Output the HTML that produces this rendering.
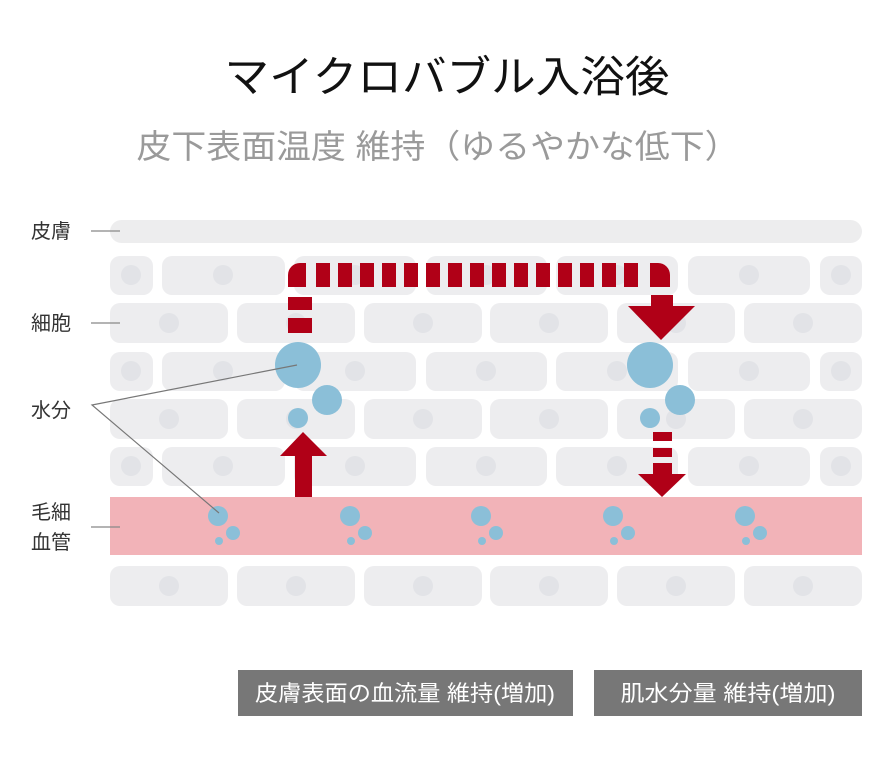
<!DOCTYPE html>
<html><head><meta charset="utf-8"><style>
html,body{margin:0;padding:0;background:#fff}
svg{display:block}
text{font-family:"Liberation Sans","Noto Sans CJK JP",sans-serif}
</style></head><body>
<svg width="890" height="769" viewBox="0 0 890 769" xmlns="http://www.w3.org/2000/svg">
<text x="447" y="92" text-anchor="middle" font-size="43" fill="#111" textLength="445" lengthAdjust="spacingAndGlyphs">マイクロバブル入浴後</text>
<text x="438" y="158" text-anchor="middle" font-size="33" fill="#9a9a9a" textLength="603" lengthAdjust="spacingAndGlyphs">皮下表面温度 維持（ゆるやかな低下）</text>

<rect x="110" y="220" width="752" height="23" rx="11.5" fill="#ededee"/>

<g fill="#ededef">
<g id="odd">
<rect x="110" y="256" width="43" height="39" rx="10"/><rect x="162" y="256" width="123" height="39" rx="10"/><rect x="294" y="256" width="122" height="39" rx="10"/><rect x="426" y="256" width="121" height="39" rx="10"/><rect x="556" y="256" width="122" height="39" rx="10"/><rect x="688" y="256" width="122" height="39" rx="10"/><rect x="820" y="256" width="42" height="39" rx="10"/>
</g>
<use href="#odd" y="96"/><use href="#odd" y="191"/>
<g id="even">
<rect x="110" y="303" width="118" height="40" rx="10"/><rect x="237" y="303" width="118" height="40" rx="10"/><rect x="364" y="303" width="118" height="40" rx="10"/><rect x="490" y="303" width="118" height="40" rx="10"/><rect x="617" y="303" width="118" height="40" rx="10"/><rect x="744" y="303" width="118" height="40" rx="10"/>
</g>
<use href="#even" y="96"/><use href="#even" y="263"/>
</g>
<g fill="#e2e3e7">
<g id="oddn">
<circle cx="131" cy="275" r="10"/><circle cx="223" cy="275" r="10"/><circle cx="355" cy="275" r="10"/><circle cx="486" cy="275" r="10"/><circle cx="617" cy="275" r="10"/><circle cx="749" cy="275" r="10"/><circle cx="841" cy="275" r="10"/>
</g>
<use href="#oddn" y="96"/><use href="#oddn" y="191"/>
<g id="evenn">
<circle cx="169" cy="323" r="10"/><circle cx="296" cy="323" r="10"/><circle cx="423" cy="323" r="10"/><circle cx="549" cy="323" r="10"/><circle cx="676" cy="323" r="10"/><circle cx="803" cy="323" r="10"/>
</g>
<use href="#evenn" y="96"/><use href="#evenn" y="263"/>
</g>

<rect x="110" y="497" width="752" height="58" fill="#f2b3b8"/>
<g fill="#8bbfd8">
<g id="cb"><circle cx="218" cy="516" r="10"/><circle cx="233" cy="533" r="7"/><circle cx="219" cy="541" r="4"/></g>
<use href="#cb" x="132"/><use href="#cb" x="263"/><use href="#cb" x="395"/><use href="#cb" x="527"/>
</g>

<g fill="#b00017">
<path d="M288 287 V275 a12 12 0 0 1 12 -12 H306 V287 Z"/>
<rect x="316" y="263" width="14" height="24"/><rect x="338" y="263" width="14" height="24"/><rect x="360" y="263" width="14" height="24"/><rect x="382" y="263" width="14" height="24"/><rect x="404" y="263" width="14" height="24"/><rect x="426" y="263" width="14" height="24"/><rect x="448" y="263" width="14" height="24"/><rect x="470" y="263" width="14" height="24"/><rect x="492" y="263" width="14" height="24"/><rect x="514" y="263" width="14" height="24"/><rect x="536" y="263" width="14" height="24"/><rect x="558" y="263" width="14" height="24"/><rect x="580" y="263" width="14" height="24"/><rect x="602" y="263" width="14" height="24"/><rect x="624" y="263" width="14" height="24"/>
<path d="M650 263 H658 a12 12 0 0 1 12 12 V287 H650 Z"/>
<rect x="288" y="297" width="24" height="13"/><rect x="288" y="318" width="24" height="15"/>
<rect x="651" y="295" width="22" height="12"/><polygon points="628,306 695,306 661,340"/>
<polygon points="280,456 327,456 303,432"/><rect x="295" y="455" width="17" height="42"/>
<rect x="653" y="432" width="19" height="9"/><rect x="653" y="448" width="19" height="9"/><rect x="653" y="463" width="19" height="12"/><polygon points="638,474 686,474 662,497"/>
</g>

<g fill="#8bbfd8">
<circle cx="298" cy="365" r="23"/><circle cx="327" cy="400" r="15"/><circle cx="298" cy="418" r="10"/>
<circle cx="650" cy="365" r="23"/><circle cx="680" cy="400" r="15"/><circle cx="650" cy="418" r="10"/>
</g>

<g stroke="#888" stroke-width="1.2" fill="none">
<line x1="91" y1="231" x2="120" y2="231"/>
<line x1="91" y1="323" x2="120" y2="323"/>
<line x1="91" y1="527" x2="120" y2="527"/>
<polyline points="297,365 92,405 219,513" stroke="#777"/>
</g>
<g font-size="20" fill="#333">
<text x="31" y="238">皮膚</text>
<text x="31" y="330">細胞</text>
<text x="31" y="417">水分</text>
<text x="31" y="519">毛細</text>
<text x="31" y="549">血管</text>
</g>

<rect x="238" y="670" width="335" height="46" fill="#777"/>
<rect x="594" y="670" width="268" height="46" fill="#777"/>
<g font-size="22" fill="#fff" text-anchor="middle">
<text x="405" y="701" textLength="300" lengthAdjust="spacingAndGlyphs">皮膚表面の血流量 維持(増加)</text>
<text x="728" y="701" textLength="215" lengthAdjust="spacingAndGlyphs">肌水分量 維持(増加)</text>
</g>
</svg>
</body></html>
